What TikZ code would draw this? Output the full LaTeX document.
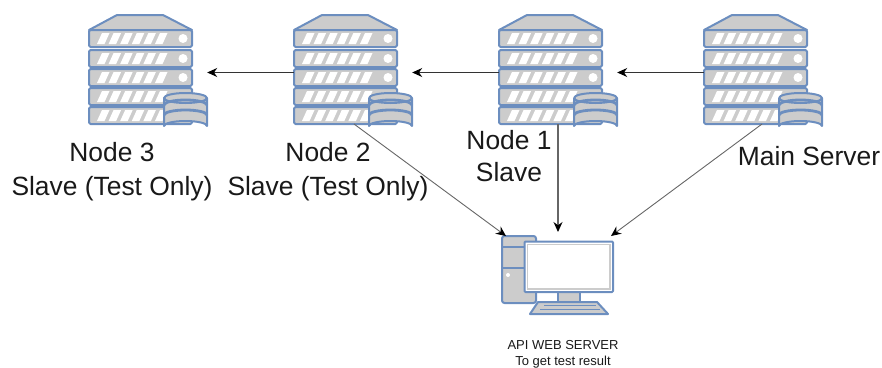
\documentclass[tikz,border=0pt]{standalone}
\usepackage{fontspec}
\setmainfont{Liberation Sans}
\definecolor{edgeblue}{HTML}{6C8EBF}
\definecolor{fillgray}{HTML}{CCCCCC}
\definecolor{linkgray}{HTML}{666666}
\tikzset{
  part/.style={draw=edgeblue,fill=fillgray,line width=2pt,line join=round},
  hostbox/.style={inner sep=0pt,minimum width=118pt,minimum height=117pt},
  bigtext/.style={font=\fontsize{26.4}{34.5}\selectfont,align=center,inner sep=0pt,text=black!90},
  nodeonetext/.style={font=\fontsize{26.4}{32}\selectfont,align=center,inner sep=0pt,text=black!90},
  smalltext/.style={font=\fontsize{13}{16}\selectfont,align=center,inner sep=0pt,text=black!90},
  thinlink/.style={draw=linkgray,line width=0.9pt,-{Stealth[length=10pt,width=9pt,color=black]}},
  solidlink/.style={draw=black!80,line width=1.1pt,-{Stealth[length=10pt,width=9pt,color=black]}},
  pics/hostpic/.style={code={
    \draw[part] (28,15) -- (74,15) -- (103,30) -- (0,30) -- cycle;
    \foreach \t in {30,50,69,88,107}{
      \draw[part,rounded corners=1.5pt] (0,\t) rectangle (103,\t+17);
      \foreach \k in {0,...,5}{
        \fill[white] ({8+11.6*\k},\t+14) -- ({15.5+11.6*\k},\t+14) -- ({20.5+11.6*\k},\t+3) -- ({13+11.6*\k},\t+3) -- cycle;
      }
    }
    \foreach \t in {30,50,69}{\fill[white] (94,\t+8.5) circle (4.5);}
    \draw[part] (75,98) -- (75,126) arc[start angle=180,end angle=360,x radius=21.5,y radius=5] -- (118,98);
    \draw[part,fill=fillgray] (96.5,98) ellipse[x radius=21.5,y radius=5];
    \draw[edgeblue,line width=2.8pt] (75,105) arc[start angle=180,end angle=360,x radius=21.5,y radius=5];
    \draw[edgeblue,line width=2.8pt] (75,115) arc[start angle=180,end angle=360,x radius=21.5,y radius=5];
  }},
  x=1pt,y=-1pt
}
\usetikzlibrary{arrows.meta}
\begin{document}
\begin{tikzpicture}[x=1pt,y=-1pt]
\useasboundingbox (0,0) rectangle (882,367);
% anchors of the icons
\node[hostbox] (n3) at (148,72.5) {};
\node[hostbox] (n2) at (353,72.5) {};
\node[hostbox] (n1) at (558,72.5) {};
\node[hostbox] (m)  at (763,72.5) {};
\node[inner sep=0pt,minimum width=111pt,minimum height=78pt] (pc) at (557.5,275) {};
\coordinate (n2foot) at (354,124);
\coordinate (n1foot) at (558,124);
\coordinate (mfoot) at (762,124);
\coordinate (pcleft) at (506,236);
\coordinate (pctop) at (558,232);
\coordinate (pcright) at (611,236);
% server icons
\pic at (89,0) {hostpic};
\pic at (294,0) {hostpic};
\pic at (499,0) {hostpic};
\pic at (704,0) {hostpic};
% computer icon
\draw[part,rounded corners=2.5pt] (502,236) rectangle (536,303);
\draw[edgeblue,line width=2pt] (502,247) -- (536,247) (502,268) -- (536,268);
\fill[white] (508,275) circle (2);
\draw[part] (558,292) rectangle (580,302);
\draw[part] (538,302) -- (597,302) -- (608,314) -- (530,314) -- cycle;
\draw[edgeblue,line width=1.4pt] (544,305.5) -- (596,305.5) (540,309.5) -- (600,309.5);
\draw[part,fill=white,rounded corners=1pt] (524.5,241.5) rectangle (613,292);
\draw[fillgray,line width=1.6pt] (527.5,244.5) rectangle (610,289);
% connectors
\draw[solidlink] (m.west) -- (n1.east);
\draw[solidlink] (n1.west) -- (n2.east);
\draw[solidlink] (n2.west) -- (n3.east);
\draw[thinlink] (n2foot) -- (pcleft);
\draw[thinlink,line width=1.1pt] (n1foot) -- (pctop);
\draw[thinlink] (mfoot) -- (pcright);
% labels
\node[bigtext] (t3) at (112,171.5) {Node 3\\Slave (Test Only)};
\node[bigtext] (t2) at (328,171.5) {Node 2\\Slave (Test Only)};
\node[nodeonetext] (t1) at (509,156) {Node 1\\Slave};
\node[bigtext] (tm) at (809,156) {Main Server};
\node[smalltext] (tpc) at (563,354.5) {API WEB SERVER\\To get test result};
\end{tikzpicture}
\end{document}
